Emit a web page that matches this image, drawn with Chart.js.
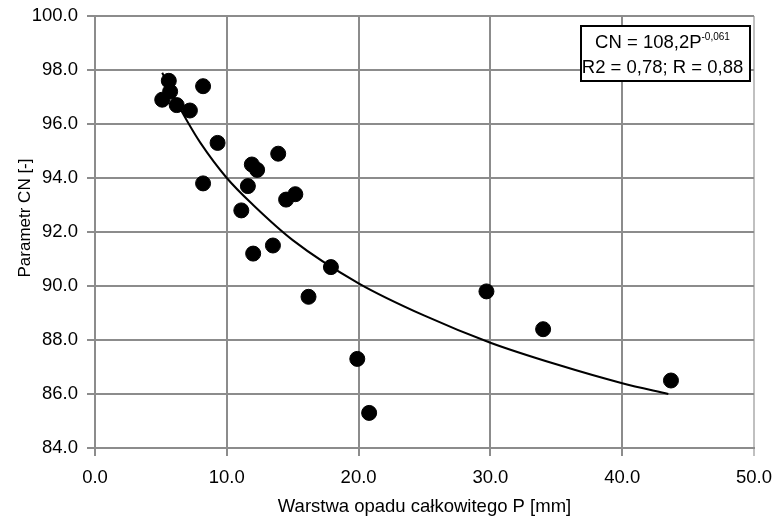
<!DOCTYPE html>
<html>
<head>
<meta charset="utf-8">
<script src="https://cdn.jsdelivr.net/npm/chart.js@4"></script>
<style>
    body { margin: 0; background: #fff; }
    #wrap { width: 774px; height: 518px; position: relative; }
</style>
</head>
<body>
<div id="wrap"><canvas id="cnChart"></canvas></div>
<script>
// Dane pomiarowe: opad P [mm] i parametr CN [-]
const rainP = [5.6, 5.7, 5.1, 6.2, 7.2, 8.2, 9.3, 13.9, 11.9, 12.3, 8.2, 11.6,
    14.5, 15.2, 11.1, 13.5, 12.0, 17.9, 16.2, 19.9, 20.8, 29.7, 34.0, 43.7];
const cnValues = [97.6, 97.2, 96.9, 96.7, 96.5, 97.4, 95.3, 94.9, 94.5, 94.3, 93.8, 93.7,
    93.2, 93.4, 92.8, 91.5, 91.2, 90.7, 89.6, 87.3, 85.3, 89.8, 88.4, 86.5];

// Linia trendu
const trendP = [5.1, 6, 7, 8, 10, 12, 15, 20, 25, 30, 35, 40, 43.5];
const trendCN = [97.9, 97.0, 96.1, 95.3, 94.0, 93.0, 91.7, 90.1, 88.9, 87.9, 87.1, 86.4, 86.0];

const xTicks = [0, 10, 20, 30, 40, 50];
const yTicks = [84, 86, 88, 90, 92, 94, 96, 98, 100];

const eqLine1 = 'CN = 108,2P';
const eqExp = '-0,061';
const eqLine2 = 'R2 = 0,78; R = 0,88';
const xTitle = 'Warstwa opadu całkowitego P [mm]';
const yTitle = 'Parametr CN [-]';

const FONT = '"Liberation Sans", Arial, sans-serif';
const GRID = '#8c8c8c';

// Plugin: ramka z równaniem i tytuł osi Y
const annotations = {
    id: 'annotations',
    afterDraw(chart) {
        const ctx = chart.ctx;
        const area = chart.chartArea;
        ctx.save();

        // tytuł osi Y
        ctx.fillStyle = '#000';
        ctx.font = '17px ' + FONT;
        ctx.textAlign = 'center';
        ctx.textBaseline = 'middle';
        ctx.translate(25, (area.top + area.bottom) / 2 - 14);
        ctx.rotate(-Math.PI / 2);
        ctx.fillText(yTitle, 0, 0);
        ctx.restore();

        // ramka z równaniem
        ctx.save();
        const bx = 581, by = 26, bw = 169, bh = 55;
        ctx.fillStyle = '#fff';
        ctx.fillRect(bx, by, bw, bh);
        ctx.strokeStyle = '#000';
        ctx.lineWidth = 2;
        ctx.strokeRect(bx, by, bw, bh);

        ctx.fillStyle = '#000';
        ctx.textBaseline = 'alphabetic';
        ctx.textAlign = 'left';
        ctx.font = '18.5px ' + FONT;
        const w1 = ctx.measureText(eqLine1).width;
        ctx.font = '10px ' + FONT;
        const wExp = ctx.measureText(eqExp).width;
        const cx = bx + bw / 2 - 3;
        let x1 = cx - (w1 + wExp) / 2;
        ctx.font = '18.5px ' + FONT;
        ctx.fillText(eqLine1, x1, 48);
        ctx.font = '10px ' + FONT;
        ctx.fillText(eqExp, x1 + w1, 40);

        ctx.font = '18.5px ' + FONT;
        const w2 = ctx.measureText(eqLine2).width;
        ctx.fillText(eqLine2, cx - w2 / 2, 73);
        ctx.restore();
    }
};

const ctx = document.getElementById('cnChart').getContext('2d');
const chart = new Chart(ctx, {
    type: 'scatter',
    data: {
        datasets: [
            {
                label: 'CN',
                data: rainP.map((p, i) => ({ x: p, y: cnValues[i] })),
                backgroundColor: '#000',
                borderColor: '#000',
                pointRadius: 7.5,
                pointHoverRadius: 7.5,
                order: 1
            },
            {
                label: 'trend',
                data: trendP.map((p, i) => ({ x: p, y: trendCN[i] })),
                showLine: true,
                borderColor: '#000',
                borderWidth: 2,
                pointRadius: 0,
                cubicInterpolationMode: 'monotone',
                fill: false,
                order: 2
            }
        ]
    },
    options: {
        responsive: true,
        maintainAspectRatio: false,
        animation: false,
        layout: { padding: { top: 16, right: 20, left: 0, bottom: 0 } },
        plugins: {
            legend: { display: false },
            tooltip: { enabled: false }
        },
        scales: {
            x: {
                type: 'linear',
                min: 0,
                max: 50,
                afterBuildTicks: (scale) => { scale.ticks = xTicks.map(v => ({ value: v })); },
                afterFit: (scale) => {
                    scale.height = 70;
                    scale.paddingLeft = 0;
                    scale.paddingRight = 0;
                },
                ticks: {
                    color: '#000',
                    font: { family: FONT, size: 18.5 },
                    padding: 11,
                    maxRotation: 0,
                    callback: (v) => Number(v).toFixed(1)
                },
                grid: {
                    color: (c) => (c.tick && c.tick.value === 50 ? '#c0c0c0' : GRID),
                    lineWidth: 2,
                    tickLength: 8
                },
                border: { color: GRID, width: 2 },
                title: {
                    display: true,
                    text: xTitle,
                    color: '#000',
                    font: { family: FONT, size: 18.5 },
                    padding: { top: 0, bottom: 0 }
                }
            },
            y: {
                type: 'linear',
                min: 84,
                max: 100,
                afterBuildTicks: (scale) => { scale.ticks = yTicks.map(v => ({ value: v })); },
                afterFit: (scale) => {
                    scale.width = 95;
                    scale.paddingTop = 0;
                    scale.paddingBottom = 0;
                },
                ticks: {
                    color: '#000',
                    font: { family: FONT, size: 18.5 },
                    padding: 9,
                    callback: (v) => Number(v).toFixed(1)
                },
                grid: {
                    color: GRID,
                    lineWidth: 2,
                    tickLength: 8
                },
                border: { color: GRID, width: 2 }
            }
        }
    },
    plugins: [annotations]
});
</script>
</body>
</html>
